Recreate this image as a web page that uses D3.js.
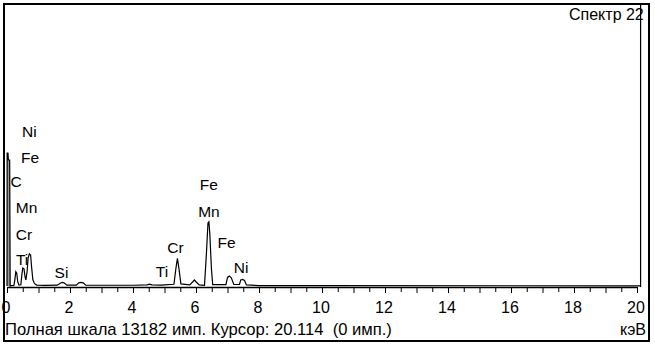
<!DOCTYPE html>
<html>
<head>
<meta charset="utf-8">
<script src="https://cdn.jsdelivr.net/npm/d3@7"></script>
<style>
  body { margin: 0; background: #fff; }
  svg { display: block; font-family: "Liberation Sans", Arial, sans-serif; }
</style>
</head>
<body>
<svg id="chart" width="655" height="345"></svg>
<script>
// spectrum trace: energy (keV) and counts
const energy = [0, 0.005, 0.03, 0.045, 0.085, 0.1, 0.12, 0.22, 0.25, 0.28, 0.31, 0.34, 0.38, 0.44, 0.47, 0.5, 0.54, 0.57, 0.6,
  0.64, 0.67, 0.71, 0.75, 0.78, 0.82, 0.86, 0.9, 0.95, 1.2, 1.6, 1.7, 1.76, 1.82, 1.9, 2.2, 2.28, 2.34, 2.42, 2.5, 3.0, 4.0,
  4.45, 4.52, 4.6, 4.9, 5.0, 5.3, 5.36, 5.41, 5.46, 5.52, 5.8, 5.9, 5.95, 6.0, 6.1, 6.27, 6.33, 6.38, 6.41, 6.44, 6.49, 6.53,
  6.6, 6.95, 7.0, 7.06, 7.12, 7.2, 7.38, 7.42, 7.48, 7.54, 7.6, 8.0, 10, 20.1];
const counts = [0, 6215, 6215, 5890, 5890, 0, 20, 30, 300, 670, 600, 200, 40, 60, 500, 840, 800, 450, 280,
  700, 1300, 1500, 1450, 900, 300, 150, 80, 40, 30, 40, 140, 165, 140, 40, 40, 150, 165, 150, 40, 35, 35,
  50, 90, 50, 40, 55, 80, 800, 1295, 800, 100, 50, 200, 280, 200, 50, 30, 1500, 2950, 3005, 2400, 800, 60,
  60, 60, 400, 470, 380, 70, 70, 280, 305, 260, 50, 20, 15, 10];

// element markers
const labelNames = ["Ni", "Fe", "C", "Mn", "Cr", "Ti", "Si", "Ti", "Cr", "Fe", "Mn", "Fe", "Ni"];
const labelKeV = [0.71, 0.73, 0.29, 0.62, 0.54, 0.48, 1.73, 4.92, 5.35, 6.41, 6.41, 6.97, 7.43];
const labelLevel = [6964, 5749, 4627, 3412, 2150, 981, 374, 421, 1542, 4487, 3225, 1776, 608];

const tickValues = d3.range(0, 20.01, 0.5);
const fullScale = 13182;
const cursorKeV = 20.114;
const title = "Спектр 22";
const footer = "Полная шкала 13182 имп. Курсор: 20.114  (0 имп.)";
const unit = "кэВ";

const svg = d3.select("#chart");
const x = d3.scaleLinear().domain([0, 20]).range([7, 637]);
const y = d3.scaleLinear().domain([0, fullScale]).range([286, 4]);

// frame
svg.append("rect")
  .attr("x", 4).attr("y", 4).attr("width", 645).attr("height", 337)
  .attr("fill", "none").attr("stroke", "#000").attr("stroke-width", 2);

// axis
const axis = svg.append("g")
  .attr("transform", "translate(0,287)")
  .call(d3.axisBottom(x).tickValues(tickValues).tickSizeOuter(0)
    .tickFormat(d => d % 2 === 0 ? d : ""));
axis.select(".domain").attr("stroke-width", 1.5);
axis.selectAll(".tick line").attr("y2", d => d % 1 === 0 ? 6 : 5);
axis.selectAll(".tick text")
  .attr("y", 26).attr("dy", 0).attr("dx", -1.5)
  .style("font-size", "16px").style("font-family", "'Liberation Sans', Arial, sans-serif");

// zero peak fill
const zeroIdx = d3.range(0, 6);
svg.append("path")
  .datum(zeroIdx)
  .attr("fill", "#9a9a9a")
  .attr("d", d3.area().x(i => x(energy[i])).y0(y(0)).y1(i => y(counts[i])));

// spectrum line
svg.append("path")
  .datum(d3.range(energy.length))
  .attr("fill", "none").attr("stroke", "#000").attr("stroke-width", 1.2)
  .attr("d", d3.line().x(i => x(energy[i])).y(i => y(counts[i])));

// cursor
svg.append("line")
  .attr("x1", x(cursorKeV)).attr("x2", x(cursorKeV))
  .attr("y1", 4).attr("y2", 287)
  .attr("stroke", "#000").attr("stroke-width", 1.2);

// element labels
svg.append("g").selectAll("text")
  .data(labelNames)
  .join("text")
  .attr("x", (d, i) => x(labelKeV[i]))
  .attr("y", (d, i) => y(labelLevel[i]))
  .attr("text-anchor", "middle")
  .style("font-size", "15.5px")
  .text(d => d);

svg.append("text").attr("x", 569).attr("y", 20).style("font-size", "16px").text(title);
svg.append("text").attr("x", 5).attr("y", 335).style("font-size", "16.6px")
  .attr("xml:space", "preserve").style("white-space", "pre").text(footer);
svg.append("text").attr("x", 646).attr("y", 335).attr("text-anchor", "end")
  .style("font-size", "16px").text(unit);
</script>
</body>
</html>
